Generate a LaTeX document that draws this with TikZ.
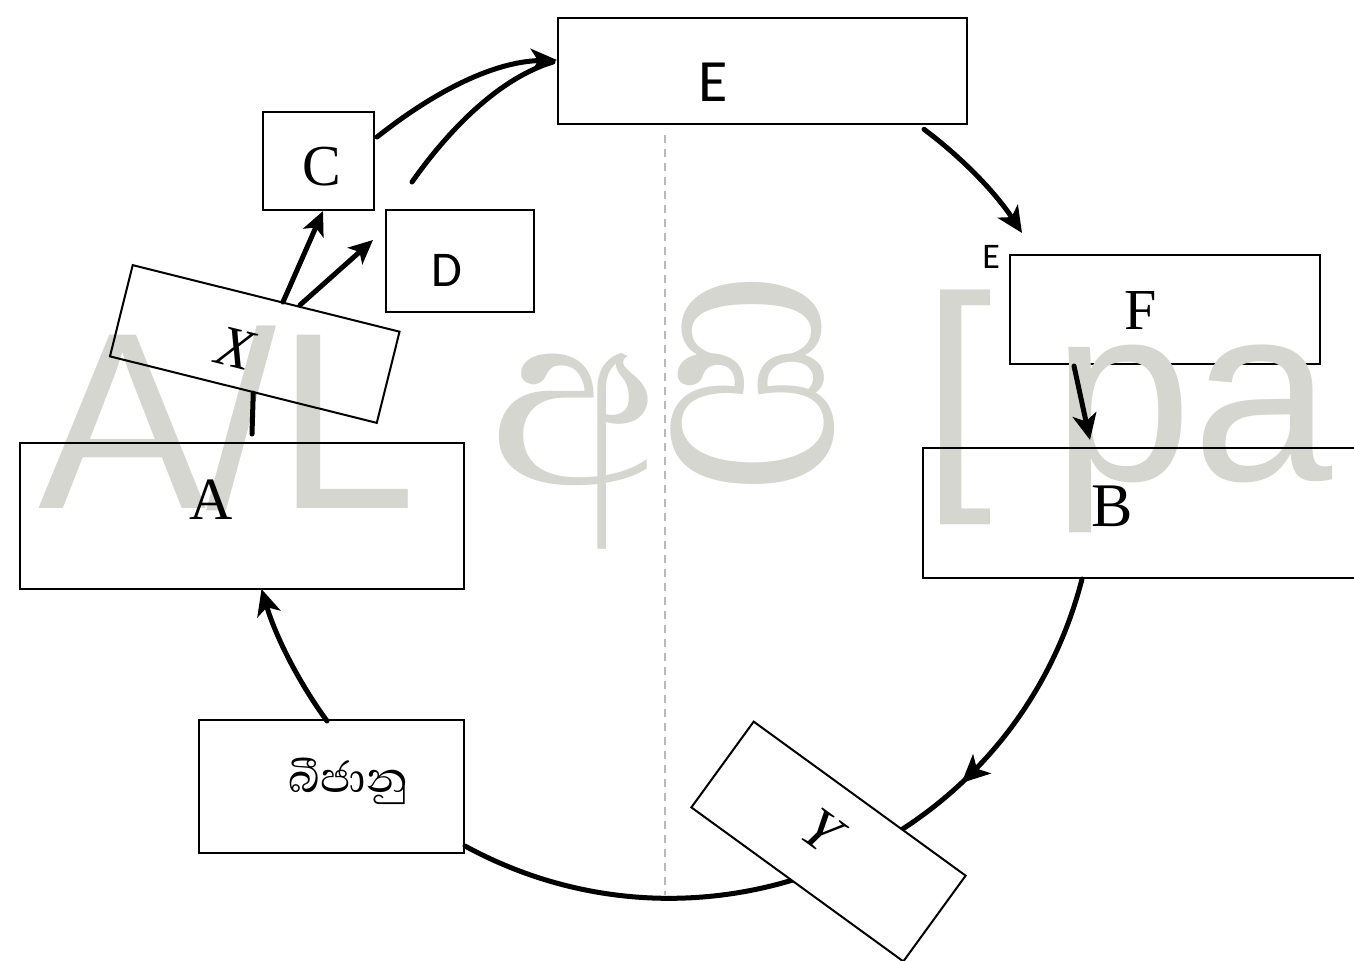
\documentclass[tikz,border=0pt]{standalone}
\usepackage{fontspec}
\setmainfont{Liberation Serif}
\newfontfamily\carlito{Carlito}
\newfontfamily\wmsans{Liberation Sans}
\newfontfamily\sinhfont[Script=Sinhala]{Abhaya Libre}
\usetikzlibrary{arrows.meta,decorations.markings,calc}
\definecolor{wmgray}{RGB}{214,214,208}
\definecolor{dashgray}{RGB}{185,185,185}
\begin{document}
\begin{tikzpicture}[x=0.5pt,y=-0.5pt,
  box/.style={draw=black,line width=1pt,rectangle,inner sep=0pt,anchor=center},
  conn/.style={line width=2.5pt,line cap=round},
  tip/.style={-{Stealth[length=13pt,width=12pt,inset=3.5pt]}},
  smalltip/.style={-{Stealth[length=12pt,width=11pt,inset=3pt]}},
  midarrow/.style={postaction={decorate},decoration={markings,
     mark=at position 0.31 with {\arrow{Stealth[length=14pt,width=13pt,inset=3.5pt]}}}},
  wm/.style={text=wmgray,inner sep=0pt},
  lbl/.style={inner sep=0pt,text=black}]
\useasboundingbox (0,0) rectangle (1354,960);
\clip (0,0) rectangle (1354,960);

% small partially hidden label beside F
\node[lbl,anchor=base west,font=\carlito\fontsize{18}{18}\selectfont] (ehint) at (982,268) {E};
\node[box,fill=white,minimum width=155pt,minimum height=54.5pt] (F) at (1165,309.5) {};

% watermark
\node[wm,anchor=base west,font=\wmsans\fontsize{126}{126}\selectfont] (wmA) at (38,508) {A/L};
\node[wm,anchor=base west,font=\sinhfont\fontsize{158}{158}\selectfont] (wmS) at (489,484) {අපි};
\node[wm,anchor=base west,font=\wmsans\fontsize{126}{126}\selectfont] (wmB) at (922,472) {[};
\node[wm,anchor=base west,font=\wmsans\fontsize{126}{126}\selectfont] (wmP) at (1052,480) {pa};

% dashed divider
\draw[dashgray,line width=1.2pt,dash pattern=on 4pt off 3pt] (665,135) -- (665,895);

% boxes
\node[box,minimum width=204.5pt,minimum height=53pt] (E) at (762.5,71) {};
\node[box,minimum width=55.5pt,minimum height=49pt] (C) at (318.5,161) {};
\node[box,minimum width=74pt,minimum height=51pt] (D) at (460,261) {};
\node[box,minimum width=137.5pt,minimum height=47pt,rotate=-14] (X) at (254.75,344) {};
\node[box,minimum width=222pt,minimum height=73pt] (A) at (242,516) {};
\node[box,minimum width=132.5pt,minimum height=66.5pt] (bij) at (331.5,786.5) {};
\node[box,minimum width=223.5pt,minimum height=65pt] (B) at (1146.5,513) {};

% connectors
\coordinate (bijT) at (327,721);
\coordinate (Abot) at (261.5,589);
\draw[conn,tip] (bijT) .. controls (297.5,680.6) and (275.3,635.3) .. (Abot);

\coordinate (Bbot) at (1082,579);
\coordinate (bijR) at (465,846);
\draw[conn,midarrow] (Bbot) .. controls (1012.9,847.8) and (708.9,978.7) .. (bijR);

\coordinate (Ebr) at (924,129.3);
\coordinate (Ftl) at (1022,233);
\draw[conn,tip] (Ebr) .. controls (962.3,157.9) and (995.6,192.7) .. (Ftl);

\coordinate (Fb) at (1074,366);
\coordinate (Bt) at (1090,440);
\draw[conn,tip] (Fb) -- (Bt);

\coordinate (Cr) at (377,137);
\coordinate (El) at (557,60);
\draw[conn,tip] (Cr) .. controls (430,95) and (490,62) .. (El);
\coordinate (Dtop) at (412,182);
\coordinate (El2) at (553,62);
\draw[conn] (Dtop) .. controls (450,128) and (500,78) .. (El2);

\coordinate (Xt1) at (283,302);
\coordinate (Cb) at (323,211);
\draw[conn,smalltip] (Xt1) -- (Cb);
\coordinate (Xt2) at (300,305);
\coordinate (Dl) at (373,240);
\draw[conn,smalltip] (Xt2) -- (Dl);

\coordinate (At) at (252,434);
\draw[conn] (At) -- (X);

% Y box on top of the arc
\node[box,fill=white,minimum width=131pt,minimum height=53pt,rotate=-36] (Y) at (828.5,841.5) {};

% labels
\node[lbl,font=\carlito\fontsize{30}{30}\selectfont] (Et) at (713,82) {E};
\node[lbl,font=\fontsize{29}{29}\selectfont] (Ct) at (322,167) {C};
\node[lbl,font=\carlito\fontsize{25}{25}\selectfont] (Dt) at (447,270) {D};
\node[lbl,font=\itshape\fontsize{29}{29}\selectfont,rotate=-14] (Xt) at (235,348) {X};
\node[lbl,font=\fontsize{30}{30}\selectfont] (At2) at (211,500) {A};
\node[lbl,font=\fontsize{31}{31}\selectfont] (Bt2) at (1112,506) {B};
\node[lbl,font=\fontsize{29}{29}\selectfont] (Ft) at (1141,311) {F};
\node[lbl,font=\itshape\fontsize{29}{29}\selectfont,rotate=-36] (Yt) at (822,831) {Y};
\node[lbl,font=\sinhfont\fontsize{27}{27}\selectfont] (bijt) at (348,781) {බීජානු};
\end{tikzpicture}
\end{document}
